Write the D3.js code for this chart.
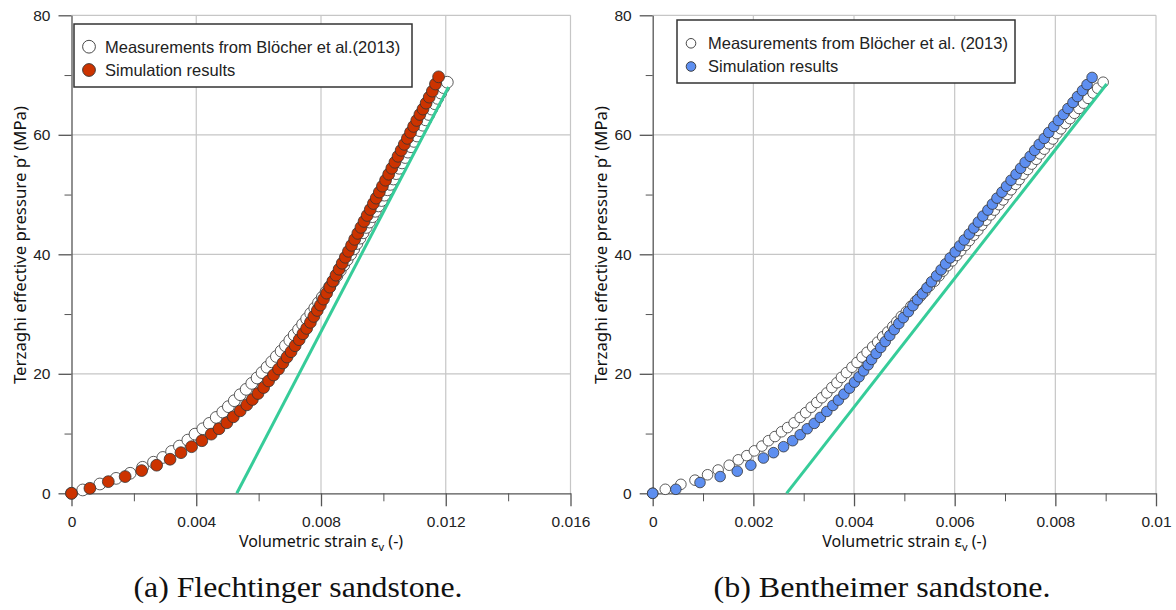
<!DOCTYPE html>
<html>
<head>
<meta charset="utf-8">
<script src="https://cdn.jsdelivr.net/npm/d3@7"></script>
<style>
  body { margin: 0; background: #fff; }
  svg { display: block; }
</style>
</head>
<body>
<div id="grafico"></div>
<script>
// Flechtinger sandstone: [volumetric strain (-), Terzaghi effective pressure (MPa)]
const flechtMeasured = [
  [0, 0], [0.00036, 0.56], [0.00091, 1.56], [0.00143, 2.5], [0.00188, 3.35], [0.00228, 4.35],
  [0.00263, 5.2], [0.00293, 6.0], [0.00321, 7.0], [0.00346, 7.9], [0.00373, 8.9], [0.00396, 9.9],
  [0.00421, 10.8], [0.00442, 11.7], [0.00464, 12.7], [0.00485, 13.6], [0.00503, 14.5], [0.00522, 15.5],
  [0.00541, 16.5], [0.0056, 17.4], [0.00578, 18.4], [0.00595, 19.3], [0.00611, 20.2], [0.00627, 21.1],
  [0.00642, 22.0], [0.00657, 22.9], [0.00672, 23.8], [0.00686, 24.7], [0.007, 25.6], [0.00714, 26.5],
  [0.00728, 27.4], [0.00741, 28.3], [0.00754, 29.2], [0.00767, 30.1], [0.0078, 31.0], [0.00792, 31.9],
  [0.00804, 32.8], [0.00816, 33.7], [0.00828, 34.6], [0.0084, 35.5], [0.00851, 36.4], [0.00862, 37.3],
  [0.00873, 38.2], [0.00884, 39.1], [0.00895, 40.0], [0.00905, 40.9], [0.00915, 41.8], [0.00925, 42.7],
  [0.00935, 43.6], [0.00945, 44.5], [0.00955, 45.4], [0.00965, 46.3], [0.00974, 47.2], [0.00984, 48.1],
  [0.00994, 49.0], [0.01003, 49.9], [0.01013, 50.8], [0.01022, 51.7], [0.01032, 52.6], [0.01041, 53.5],
  [0.01051, 54.4], [0.0106, 55.3], [0.0107, 56.2], [0.01079, 57.1], [0.01089, 58.0], [0.01098, 58.9],
  [0.01108, 59.8], [0.01117, 60.7], [0.01127, 61.6], [0.01136, 62.5], [0.01146, 63.4], [0.01155, 64.3],
  [0.01165, 65.2], [0.01174, 66.1], [0.01184, 67.0], [0.01193, 67.9], [0.01205, 68.8]
];
const flechtSimulated = [
  [0, 0], [0.00059, 0.84], [0.00118, 1.95], [0.00172, 2.8], [0.00225, 3.8], [0.00273, 4.7],
  [0.00316, 5.7], [0.00351, 6.8], [0.00385, 7.8], [0.00418, 8.8], [0.00448, 9.9], [0.00473, 10.8],
  [0.00498, 11.8], [0.00519, 12.8], [0.00541, 13.8], [0.00562, 14.8], [0.0058, 15.7], [0.00598, 16.7],
  [0.00616, 17.7], [0.00632, 18.8], [0.00648, 19.8], [0.00664, 20.8], [0.00678, 21.8], [0.00691, 22.8],
  [0.00704, 23.7], [0.00717, 24.7], [0.0073, 25.7], [0.00742, 26.7], [0.00754, 27.6], [0.00766, 28.6],
  [0.00777, 29.6], [0.00788, 30.6], [0.00798, 31.5], [0.00808, 32.5], [0.00818, 33.5], [0.00828, 34.5],
  [0.00838, 35.5], [0.00848, 36.5], [0.00858, 37.5], [0.00868, 38.5], [0.00878, 39.5], [0.00888, 40.5],
  [0.00898, 41.5], [0.00908, 42.5], [0.00918, 43.5], [0.00928, 44.5], [0.00938, 45.5], [0.00948, 46.5],
  [0.00958, 47.5], [0.00968, 48.5], [0.00977, 49.4], [0.00987, 50.4], [0.00997, 51.4], [0.01007, 52.4],
  [0.01017, 53.4], [0.01027, 54.4], [0.01037, 55.4], [0.01047, 56.4], [0.01057, 57.4], [0.01067, 58.4],
  [0.01077, 59.4], [0.01087, 60.4], [0.01097, 61.4], [0.01107, 62.4], [0.01117, 63.4], [0.01127, 64.3],
  [0.01137, 65.3], [0.01147, 66.3], [0.01157, 67.3], [0.01167, 68.5], [0.01177, 69.7]
];
const flechtFit = [[0.0053, 0], [0.01209, 68.0]];

// Bentheimer sandstone
const benthMeasured = [
  [0, 0], [0.00025, 0.67], [0.00056, 1.5], [0.00084, 2.2], [0.00109, 3.1], [0.0013, 3.9],
  [0.00152, 4.7], [0.0017, 5.6], [0.00187, 6.3], [0.00202, 7.1], [0.00217, 7.9], [0.0023, 8.8],
  [0.00243, 9.5], [0.00256, 10.3], [0.00268, 11.0], [0.00281, 11.8], [0.00293, 12.7], [0.00304, 13.5],
  [0.00315, 14.4], [0.00326, 15.2], [0.00336, 16.0], [0.00346, 16.8], [0.00356, 17.7], [0.00366, 18.5],
  [0.00375, 19.4], [0.00385, 20.2], [0.00396, 21.1], [0.00406, 21.9], [0.00416, 22.8], [0.00426, 23.6],
  [0.00437, 24.5], [0.00447, 25.3], [0.00457, 26.2], [0.00467, 27.0], [0.00477, 27.9], [0.00485, 28.7],
  [0.00494, 29.6], [0.00504, 30.4], [0.00513, 31.3], [0.00522, 32.1], [0.00532, 33.0], [0.00541, 33.8],
  [0.0055, 34.7], [0.0056, 35.5], [0.00569, 36.4], [0.00577, 37.2], [0.00586, 38.1], [0.00595, 38.9],
  [0.00604, 39.8], [0.00612, 40.6], [0.00621, 41.5], [0.00629, 42.3], [0.00638, 43.2], [0.00646, 44.0],
  [0.00654, 44.9], [0.00662, 45.7], [0.00671, 46.6], [0.00679, 47.4], [0.00688, 48.3], [0.00696, 49.1],
  [0.00704, 50.0], [0.00712, 50.8], [0.00721, 51.7], [0.00728, 52.5], [0.00736, 53.4], [0.00745, 54.2],
  [0.00753, 55.1], [0.00762, 55.9], [0.0077, 56.8], [0.00778, 57.6], [0.00787, 58.5], [0.00795, 59.3],
  [0.00803, 60.2], [0.00811, 61.0], [0.0082, 61.9], [0.00829, 62.7], [0.00838, 63.6], [0.00847, 64.4],
  [0.00856, 65.3], [0.00865, 66.1], [0.00875, 67.0], [0.00884, 67.8], [0.00895, 68.8]
];
const benthSimulated = [
  [0, 0], [0.00046, 0.67], [0.00094, 1.8], [0.00134, 2.8], [0.00168, 3.7], [0.00195, 4.7],
  [0.0022, 5.9], [0.0024, 6.8], [0.0026, 7.8], [0.00278, 8.8], [0.00293, 9.8], [0.00307, 10.8],
  [0.00321, 11.7], [0.00333, 12.7], [0.00346, 13.7], [0.00358, 14.7], [0.00369, 15.6], [0.0038, 16.6],
  [0.00391, 17.6], [0.00401, 18.6], [0.0041, 19.5], [0.00419, 20.5], [0.00428, 21.5], [0.00435, 22.4],
  [0.00444, 23.4], [0.00453, 24.4], [0.00462, 25.4], [0.00471, 26.4], [0.0048, 27.4], [0.00489, 28.4],
  [0.00498, 29.4], [0.00508, 30.4], [0.00517, 31.4], [0.00526, 32.4], [0.00536, 33.4], [0.00545, 34.4],
  [0.00554, 35.4], [0.00564, 36.4], [0.00573, 37.4], [0.00582, 38.4], [0.00591, 39.4], [0.00601, 40.4],
  [0.0061, 41.4], [0.00619, 42.4], [0.00629, 43.4], [0.00638, 44.4], [0.00647, 45.4], [0.00656, 46.4],
  [0.00666, 47.4], [0.00675, 48.4], [0.00684, 49.4], [0.00694, 50.4], [0.00703, 51.4], [0.00712, 52.4],
  [0.00722, 53.4], [0.00731, 54.4], [0.0074, 55.4], [0.0075, 56.4], [0.00759, 57.4], [0.00768, 58.4],
  [0.00778, 59.4], [0.00787, 60.4], [0.00797, 61.4], [0.00806, 62.4], [0.00816, 63.4], [0.00825, 64.4],
  [0.00835, 65.4], [0.00844, 66.4], [0.00854, 67.4], [0.00863, 68.4], [0.00873, 69.6]
];
const benthFit = [[0.00266, 0], [0.00902, 68.5]];

// axes
const yTicks = [0, 20, 40, 60, 80];
const yMinor = [10, 30, 50, 70];
const xTicksA = [0, 0.004, 0.008, 0.012, 0.016];
const xLabelsA = ["0", "0.004", "0.008", "0.012", "0.016"];
const xMinorA = [0.002, 0.006, 0.01, 0.014];
const xTicksB = [0, 0.002, 0.004, 0.006, 0.008, 0.01];
const xLabelsB = ["0", "0.002", "0.004", "0.006", "0.008", "0.01"];
const xMinorB = [0.001, 0.003, 0.005, 0.007, 0.009];

const ancho = 1176, alto = 610;
const svg = d3.select("#grafico").append("svg")
  .attr("width", ancho).attr("height", alto);

const y = d3.scaleLinear().domain([0, 80]).range([493.3, 15.3]);
const tickFont = "'Liberation Sans', Arial, sans-serif";
const titleFont = "'Noto Sans', 'Open Sans', sans-serif";

const panels = [
  {
    left: 71.5, right: 570.5, xMax: 0.016, ticks: xTicksA, labels: xLabelsA, minor: xMinorA,
    measured: flechtMeasured, simulated: flechtSimulated, fit: flechtFit,
    fill: "#cc3300", r: 5.9,
    caption: "(a) Flechtinger sandstone.", captionX: 298, captionW: 329,
    legend: { x: 74, y: 24, w: 338, h: 63, r: 6.4, cx: 89, tx: 105, rows: [46.7, 70],
      text: "Measurements from Blöcher et al.(2013)" }
  },
  {
    left: 652.7, right: 1156, xMax: 0.01, ticks: xTicksB, labels: xLabelsB, minor: xMinorB,
    measured: benthMeasured, simulated: benthSimulated, fit: benthFit,
    fill: "#5e8ff0", r: 5.3,
    caption: "(b) Bentheimer sandstone.", captionX: 882, captionW: 337,
    legend: { x: 677, y: 20, w: 338, h: 63, r: 4.8, cx: 691, tx: 708, rows: [43.3, 66.5],
      text: "Measurements from Blöcher et al. (2013)" }
  }
];

panels.forEach(p => {
  const x = d3.scaleLinear().domain([0, p.xMax]).range([p.left, p.right]);
  const g = svg.append("g");

  // gridlines at major ticks
  g.append("g").selectAll("line").data(p.ticks.slice(1)).join("line")
    .attr("x1", d => x(d)).attr("x2", d => x(d))
    .attr("y1", y(0)).attr("y2", y(80))
    .attr("stroke", "#c6c6c6").attr("stroke-width", 1.2);
  g.append("g").selectAll("line").data(yTicks.slice(1)).join("line")
    .attr("x1", x(0)).attr("x2", x(p.xMax))
    .attr("y1", d => y(d)).attr("y2", d => y(d))
    .attr("stroke", "#c6c6c6").attr("stroke-width", 1.2);

  // minor ticks
  g.append("g").attr("transform", `translate(0,${y(0)})`).attr("color", "#555")
    .call(d3.axisBottom(x).tickValues(p.minor).tickSize(8).tickSizeOuter(0).tickFormat(""))
    .call(a => a.select(".domain").remove());
  g.append("g").attr("transform", `translate(${x(0)},0)`).attr("color", "#555")
    .call(d3.axisLeft(y).tickValues(yMinor).tickSize(7).tickSizeOuter(0).tickFormat(""))
    .call(a => a.select(".domain").remove());

  // major axes
  const ax = g.append("g").attr("transform", `translate(0,${y(0)})`).attr("color", "#555")
    .call(d3.axisBottom(x).tickValues(p.ticks).tickSize(13).tickSizeOuter(0).tickPadding(10)
      .tickFormat((d, i) => p.labels[i]));
  const ay = g.append("g").attr("transform", `translate(${x(0)},0)`).attr("color", "#555")
    .call(d3.axisLeft(y).tickValues(yTicks).tickSize(13).tickSizeOuter(0).tickPadding(8));
  [ax, ay].forEach(a => {
    a.selectAll("line, path").attr("stroke-width", 1.3);
    a.selectAll("text").attr("fill", "#222").style("font-family", tickFont).style("font-size", "15.5px");
  });

  // measured points, fitted line, simulated points
  g.append("g").selectAll("circle").data(p.measured).join("circle")
    .attr("cx", d => x(d[0])).attr("cy", d => y(d[1])).attr("r", p.r)
    .attr("fill", "#fff").attr("stroke", "#333").attr("stroke-width", 0.8);
  g.append("line")
    .attr("x1", x(p.fit[0][0])).attr("y1", y(p.fit[0][1]))
    .attr("x2", x(p.fit[1][0])).attr("y2", y(p.fit[1][1]))
    .attr("stroke", "#36cc99").attr("stroke-width", 3);
  g.append("g").selectAll("circle").data(p.simulated).join("circle")
    .attr("cx", d => x(d[0])).attr("cy", d => y(d[1])).attr("r", p.r)
    .attr("fill", p.fill).attr("stroke", "#333").attr("stroke-width", 0.8);

  // legend
  const L = p.legend;
  const lg = g.append("g");
  lg.append("rect").attr("x", L.x).attr("y", L.y).attr("width", L.w).attr("height", L.h)
    .attr("fill", "#fff").attr("stroke", "#333").attr("stroke-width", 1.5);
  [["#fff", L.text], [p.fill, "Simulation results"]].forEach((e, i) => {
    lg.append("circle").attr("cx", L.cx).attr("cy", L.rows[i]).attr("r", L.r)
      .attr("fill", e[0]).attr("stroke", "#333").attr("stroke-width", 0.9);
    lg.append("text").attr("x", L.tx).attr("y", L.rows[i]).attr("dy", "0.36em")
      .attr("fill", "#222").style("font-family", tickFont).style("font-size", "16.5px")
      .text(e[1]);
  });

  // axis titles
  const xt = g.append("text").attr("x", (p.left + p.right) / 2).attr("y", 547)
    .attr("text-anchor", "middle").attr("fill", "#111")
    .style("font-family", titleFont).style("font-size", "16px");
  xt.append("tspan").text("Volumetric strain ε");
  xt.append("tspan").attr("dy", 4).style("font-size", "11px").text("v");
  xt.append("tspan").attr("dy", -4).text(" (-)");

  g.append("text").attr("transform", `translate(${p.left - 46},245) rotate(-90)`)
    .attr("text-anchor", "middle").attr("fill", "#111")
    .style("font-family", titleFont).style("font-size", "16.8px")
    .text("Terzaghi effective pressure p’ (MPa)");

  // caption
  g.append("text").attr("x", p.captionX).attr("y", 597).attr("text-anchor", "middle")
    .attr("textLength", p.captionW).attr("lengthAdjust", "spacingAndGlyphs")
    .attr("fill", "#111").style("font-family", "'Liberation Serif', 'DejaVu Serif', serif")
    .style("font-size", "29px").text(p.caption);
});
</script>
</body>
</html>
